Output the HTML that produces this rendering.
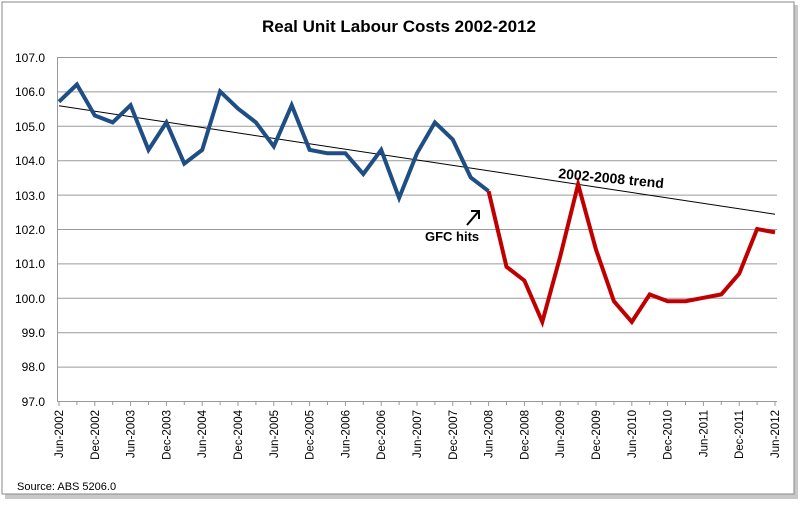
<!DOCTYPE html>
<html><head><style>
body{margin:0;background:#fff;width:800px;height:505px;overflow:hidden}
</style></head><body>
<svg width="800" height="505" xmlns="http://www.w3.org/2000/svg" font-family="'Liberation Sans',sans-serif">
<rect x="5" y="5" width="793" height="494" fill="#c8c8c8"/>
<rect x="2" y="2" width="792" height="492" fill="#fff" stroke="#8a8a8a" stroke-width="1"/>
<text x="399" y="32" text-anchor="middle" font-size="17" font-weight="bold">Real Unit Labour Costs 2002-2012</text>
<g stroke="#9a9a9a" stroke-width="1">
<line x1="57" x2="777" y1="57.5" y2="57.5"/><line x1="57" x2="777" y1="91.9" y2="91.9"/><line x1="57" x2="777" y1="126.3" y2="126.3"/><line x1="57" x2="777" y1="160.7" y2="160.7"/><line x1="57" x2="777" y1="195.1" y2="195.1"/><line x1="57" x2="777" y1="229.5" y2="229.5"/><line x1="57" x2="777" y1="263.9" y2="263.9"/><line x1="57" x2="777" y1="298.3" y2="298.3"/><line x1="57" x2="777" y1="332.7" y2="332.7"/><line x1="57" x2="777" y1="367.1" y2="367.1"/>
<line x1="57.5" x2="57.5" y1="57" y2="401"/><line x1="57" x2="777" y1="401.5" y2="401.5"/>
</g>
<g id="ticks" stroke="#9a9a9a"></g>
<g font-size="12" text-anchor="end" fill="#000">
<text x="45" y="62">107.0</text><text x="45" y="96">106.0</text><text x="45" y="131">105.0</text><text x="45" y="165">104.0</text><text x="45" y="200">103.0</text><text x="45" y="234">102.0</text><text x="45" y="268">101.0</text><text x="45" y="303">100.0</text><text x="45" y="337">99.0</text><text x="45" y="371">98.0</text><text x="45" y="406">97.0</text>
</g>
<g id="xl" font-size="11.5" text-anchor="end"></g>
<line x1="59" y1="105.8" x2="775" y2="214.2" stroke="#000" stroke-width="1"/>
<polyline id="blue" fill="none" stroke="#1f4e85" stroke-width="4" stroke-linejoin="miter"/>
<polyline id="red" fill="none" stroke="#c00000" stroke-width="4" stroke-linejoin="miter"/>
<text x="558" y="178" font-size="14" font-weight="bold" transform="rotate(5.5 558 178)">2002-2008 trend</text>
<text x="425" y="241" font-size="13" font-weight="bold">GFC hits</text>
<line x1="467" y1="225" x2="478" y2="212" stroke="#000" stroke-width="2"/>
<polyline points="471,211 479,211 479,219" fill="none" stroke="#000" stroke-width="2"/>
<text x="17" y="490" font-size="11">Source: ABS 5206.0</text>
</svg>
<script>
var v=[105.7,106.2,105.3,105.1,105.6,104.3,105.1,103.9,104.3,106.0,105.5,105.1,104.4,105.6,104.3,104.2,104.2,103.6,104.3,102.9,104.2,105.1,104.6,103.5,103.1,100.9,100.5,99.3,101.2,103.3,101.4,99.9,99.3,100.1,99.9,99.9,100.0,100.1,100.7,102.0,101.9];
function X(i){return 59+i*17.9} function Y(a){return 401-(a-97)*34.4}
var b=[],r=[];v.forEach(function(a,i){var p=X(i).toFixed(1)+","+Y(a).toFixed(1);if(i<=24)b.push(p);if(i>=24)r.push(p)});
document.getElementById('blue').setAttribute('points',b.join(' '));
document.getElementById('red').setAttribute('points',r.join(' '));
var ns="http://www.w3.org/2000/svg",t=document.getElementById('ticks'),xl=document.getElementById('xl');
for(var i=0;i<=40;i++){var l=document.createElementNS(ns,'line');l.setAttribute('x1',X(i));l.setAttribute('x2',X(i));l.setAttribute('y1',401);l.setAttribute('y2',i%2?405:406);t.appendChild(l);
if(i%2==0){var y=2002+Math.floor(i/4);var s=(i%4==0?'Jun-':'Dec-')+y;var tx=document.createElementNS(ns,'text');var x=X(i)+4;tx.setAttribute('transform','translate('+x+',410) rotate(-90)');tx.textContent=s;xl.appendChild(tx);}}
</script>
</body></html>
